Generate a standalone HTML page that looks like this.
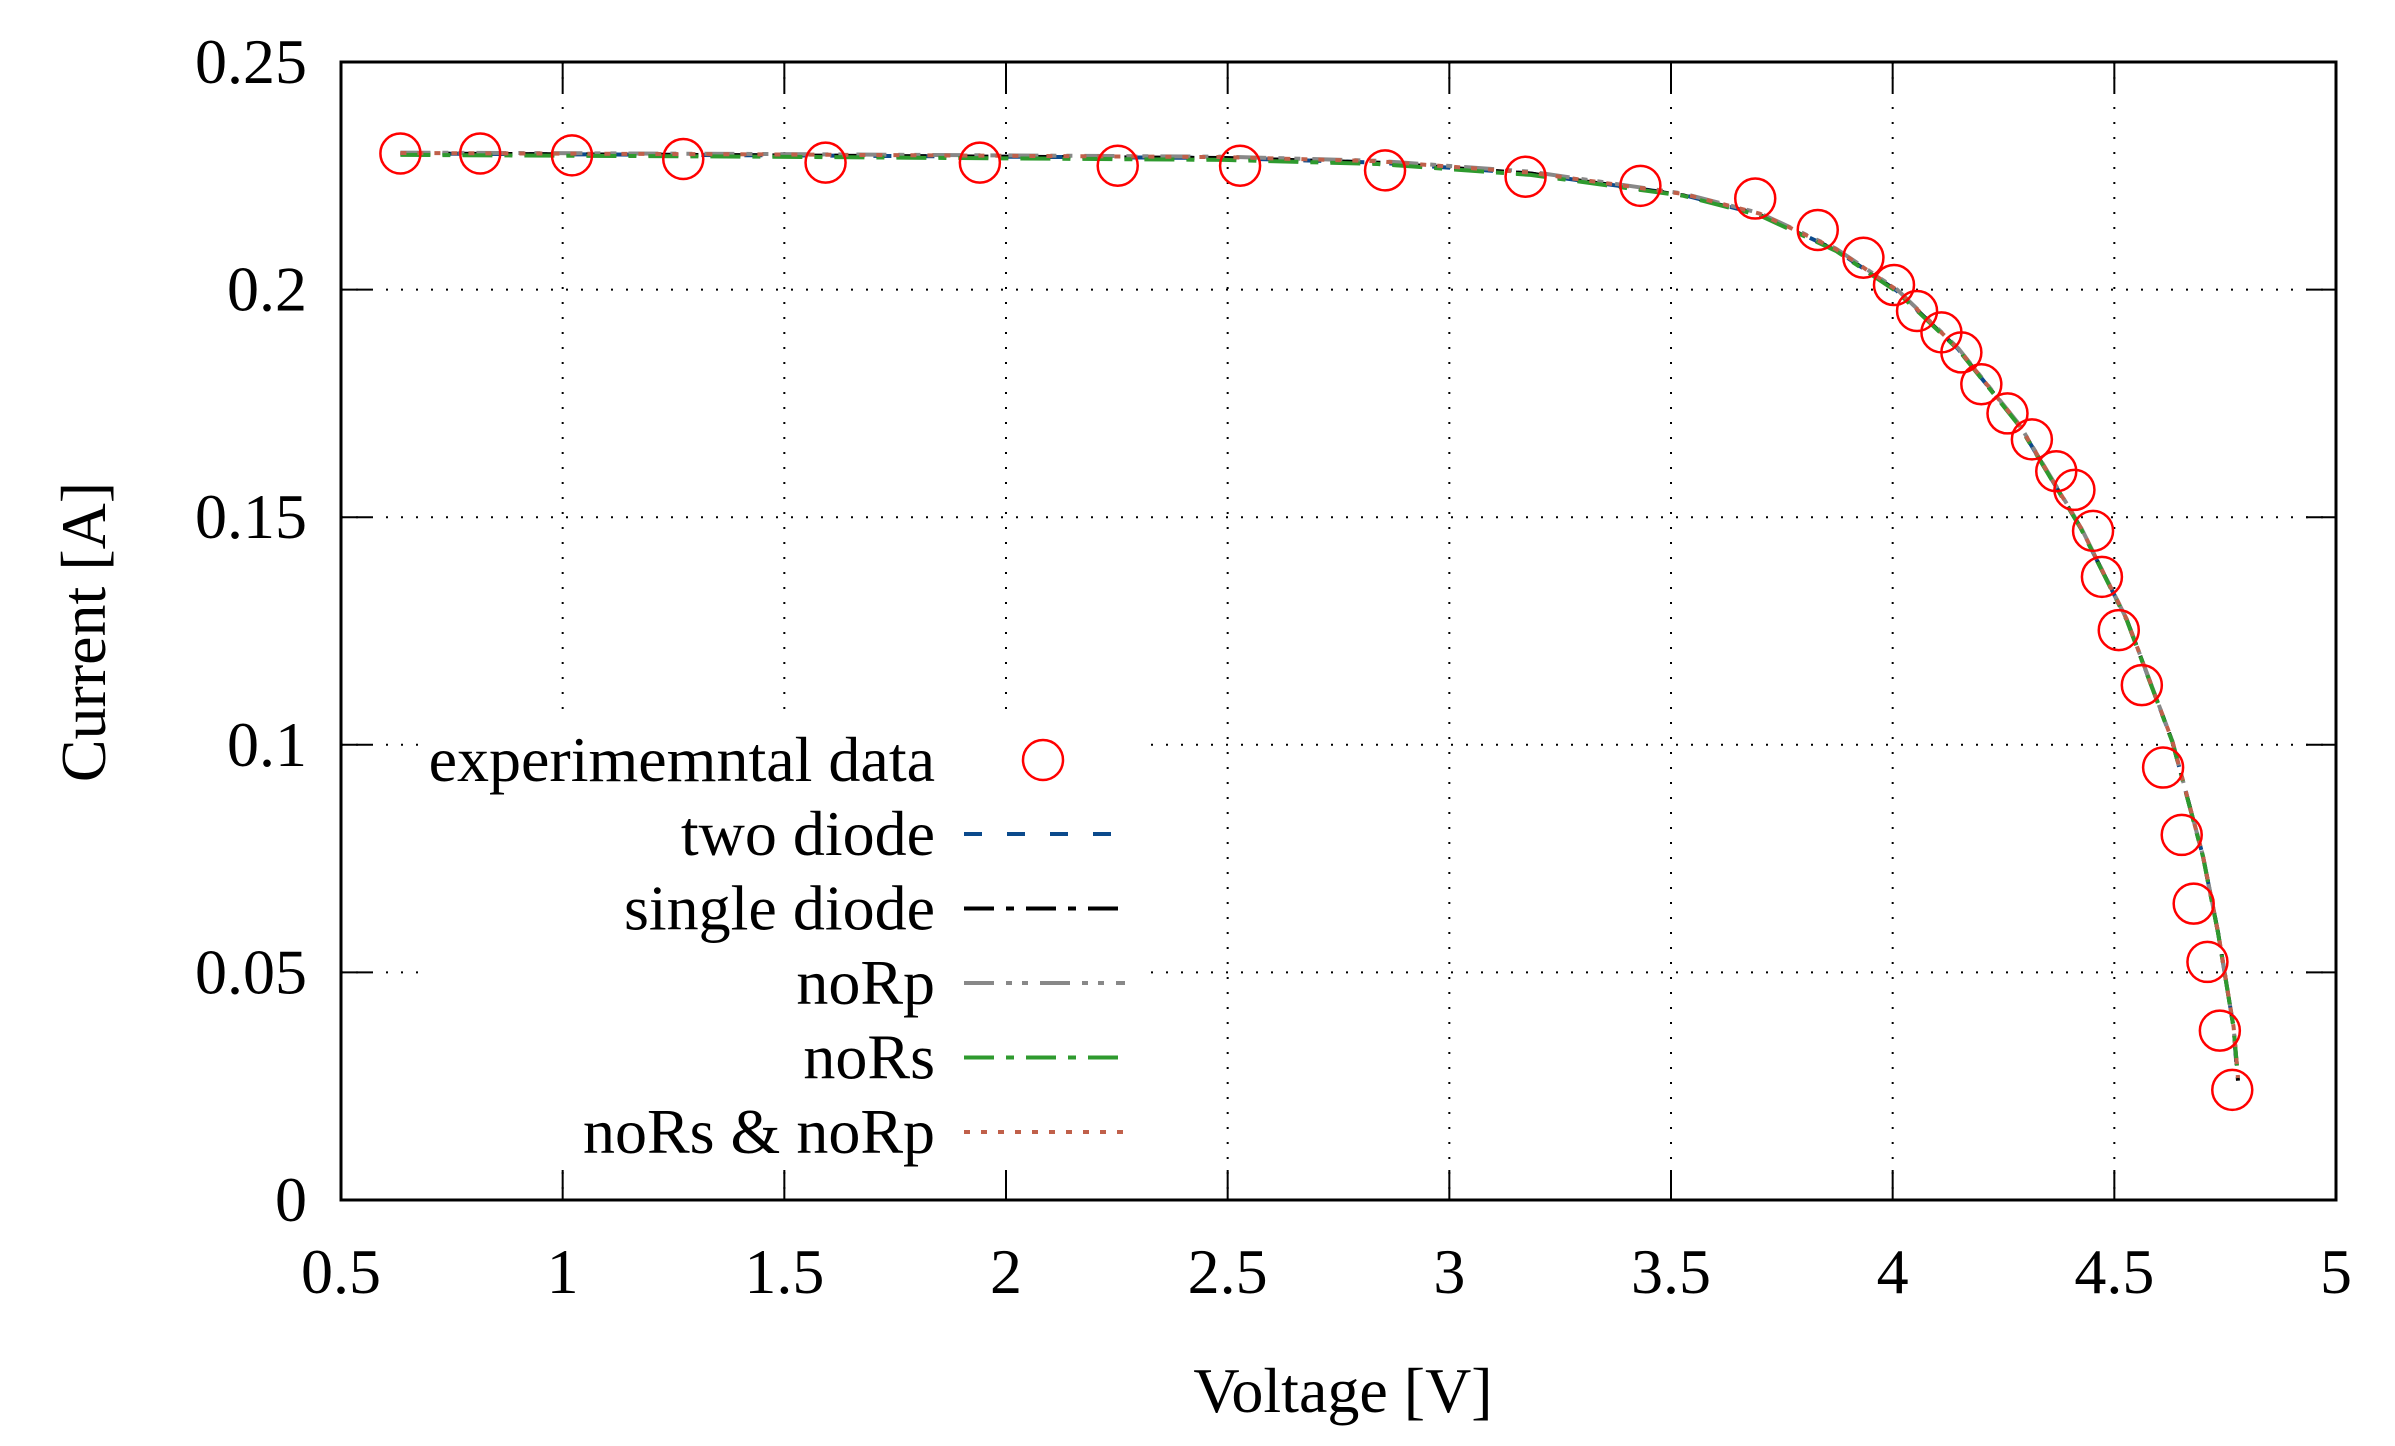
<!DOCTYPE html>
<html><head><meta charset="utf-8"><style>
body{margin:0;background:#fff}
svg{display:block}
svg text{font-family:"Liberation Serif","Times New Roman",serif !important}
</style></head><body>
<svg id="chart" width="2395" height="1446" viewBox="0 0 2395 1446" xmlns="http://www.w3.org/2000/svg" font-family="Liberation Serif, serif">
<rect width="2395" height="1446" fill="#fff"/>
<g id="grid"></g>
<g id="series"></g>
<g id="legend"></g>
<g id="axes"></g>
</svg>
<script>
const xTicks=[0.5,1,1.5,2,2.5,3,3.5,4,4.5,5];
const xTickLabels=["0.5","1","1.5","2","2.5","3","3.5","4","4.5","5"];
const yTicks=[0,0.05,0.1,0.15,0.2,0.25];
const yTickLabels=["0","0.05","0.1","0.15","0.2","0.25"];
const expV=[0.634,0.814,1.021,1.272,1.593,1.941,2.252,2.528,2.855,3.172,3.431,3.690,3.831,3.934,4.003,4.055,4.110,4.155,4.200,4.259,4.314,4.369,4.410,4.452,4.472,4.510,4.562,4.610,4.652,4.679,4.710,4.738,4.766];
const expI=[0.2299,0.2299,0.2295,0.2287,0.2279,0.2279,0.2272,0.2272,0.2262,0.2248,0.2228,0.2200,0.2131,0.2070,0.2010,0.1953,0.1906,0.1862,0.1792,0.1728,0.1671,0.1601,0.1560,0.1470,0.1369,0.1252,0.1131,0.0950,0.0802,0.0651,0.0523,0.0372,0.0242];
const fitV=[0.634,1.459,2.493,2.838,3.183,3.528,3.700,3.872,4.010,4.148,4.286,4.424,4.528,4.631,4.700,4.734,4.769,4.779];
const twoDiodeI=[0.2299,0.2295,0.2289,0.2279,0.2255,0.2208,0.2165,0.2087,0.1997,0.1869,0.1701,0.1477,0.1275,0.1007,0.0755,0.0587,0.0379,0.0250];
const singleDiodeI=[0.2299,0.2295,0.2289,0.2279,0.2255,0.2207,0.2164,0.2086,0.1996,0.1869,0.1701,0.1477,0.1275,0.1007,0.0755,0.0587,0.0379,0.0262];
const noRpI=[0.2301,0.2298,0.2292,0.2283,0.2259,0.2211,0.2168,0.2090,0.2000,0.1871,0.1703,0.1479,0.1276,0.1008,0.0756,0.0588,0.0380,0.0268];
const noRsI=[0.2296,0.2292,0.2285,0.2276,0.2252,0.2206,0.2163,0.2085,0.1995,0.1868,0.1700,0.1476,0.1274,0.1006,0.0754,0.0586,0.0378,0.0268];
const noRsRpI=[0.2300,0.2297,0.2291,0.2282,0.2257,0.2210,0.2167,0.2089,0.1999,0.1870,0.1702,0.1478,0.1276,0.1008,0.0756,0.0588,0.0380,0.0268];

const L=341,R=2336,T=62,B=1200;
const FF='Liberation Serif, Times New Roman, serif';
const sx=v=>L+(v-0.5)/(5-0.5)*(R-L);
const sy=i=>B-(i/0.25)*(B-T);
const NS="http://www.w3.org/2000/svg";
function mk(tag,parent,attrs){const e=document.createElementNS(NS,tag);for(const k in attrs)e.setAttribute(k,attrs[k]);parent.appendChild(e);return e;}
const grid=document.getElementById('grid'),ser=document.getElementById('series'),leg=document.getElementById('legend'),axes=document.getElementById('axes');

xTicks.forEach((v,k)=>{
 if(k>0&&k<xTicks.length-1){
  const g=mk('line',grid,{x1:sx(v),x2:sx(v),y1:T,y2:B,stroke:'#000','stroke-width':2,'stroke-dasharray':'2 13'});
  
  
 }
 const t1=mk('line',axes,{x1:sx(v),x2:sx(v),y1:B,y2:B-30,stroke:'#000','stroke-width':2});
 
 
 const t2=mk('line',axes,{x1:sx(v),x2:sx(v),y1:T,y2:T+30,stroke:'#000','stroke-width':2});
 
 
 const tl=mk('text',axes,{x:sx(v),y:1293,'font-size':64,'text-anchor':'middle','font-family':FF});
 tl.textContent=xTickLabels[k];
 
 
});
yTicks.forEach((v,k)=>{
 if(k>0&&k<yTicks.length-1){
  const g=mk('line',grid,{x1:L,x2:R,y1:sy(v),y2:sy(v),stroke:'#000','stroke-width':2,'stroke-dasharray':'2 13'});
  
  
 }
 const t1=mk('line',axes,{x1:L,x2:L+30,y1:sy(v),y2:sy(v),stroke:'#000','stroke-width':2});
 
 
 const t2=mk('line',axes,{x1:R,x2:R-30,y1:sy(v),y2:sy(v),stroke:'#000','stroke-width':2});
 
 
 const tl=mk('text',axes,{x:307,y:sy(v)+21,'font-size':64,'text-anchor':'end','font-family':FF});
 tl.textContent=yTickLabels[k];
 
 
});
const frame=mk('rect',axes,{x:L,y:T,width:R-L,height:B-T,fill:'none',stroke:'#000','stroke-width':3});


const yl=mk('text',axes,{x:0,y:0,'font-size':64,'text-anchor':'middle','font-family':FF,transform:'translate(105,632) rotate(-90)'});
yl.textContent='Current [A]';


const xl=mk('text',axes,{x:1343,y:1412,'font-size':64,'text-anchor':'middle','font-family':FF});
xl.textContent='Voltage [V]';



const styles=[
 {name:'two diode',data:twoDiodeI,color:'#0b4a8c',dash:'18 25',key:'two-diode'},
 {name:'single diode',data:singleDiodeI,color:'#000',dash:'30 12 8 12',key:'single-diode'},
 {name:'noRp',data:noRpI,color:'#888',dash:'30 12 6 10 6 12',key:'no-rp'},
 {name:'noRs',data:noRsI,color:'#2e9a2e',dash:'30 12 8 12',key:'no-rs'},
 {name:'noRs & noRp',data:noRsRpI,color:'#c0604a',dash:'6 11',key:'no-rs-no-rp'}
];
const lb=mk('rect',leg,{x:425,y:722,width:725,height:450,fill:'#fff'});



styles.forEach((s,k)=>{
 const d=fitV.map((v,j)=>(j?'L':'M')+sx(v).toFixed(1)+' '+sy(s.data[j]).toFixed(1)).join(' ');
 const p=mk('path',ser,{d:d,fill:'none',stroke:s.color,'stroke-width':4,'stroke-dasharray':s.dash});
 
 
 const y=834+k*74.5;
 const ll=mk('line',leg,{x1:964,x2:1125,y1:y,y2:y,stroke:s.color,'stroke-width':4,'stroke-dasharray':s.dash});
 
 
 const lt=mk('text',leg,{x:935,y:y+21,'font-size':64,'text-anchor':'end','font-family':FF});
 lt.textContent=s.name;
 
 
});
expV.forEach((v,j)=>{
 const c=mk('circle',ser,{cx:sx(v),cy:sy(expI[j]),r:20,fill:'none',stroke:'#f00','stroke-width':2.5});
 
 
});
const lc=mk('circle',leg,{cx:1043,cy:760,r:20,fill:'none',stroke:'#f00','stroke-width':2.5});


const lct=mk('text',leg,{x:935,y:781,'font-size':64,'text-anchor':'end','font-family':FF});
lct.textContent='experimemntal data';


</script>
</body></html>
